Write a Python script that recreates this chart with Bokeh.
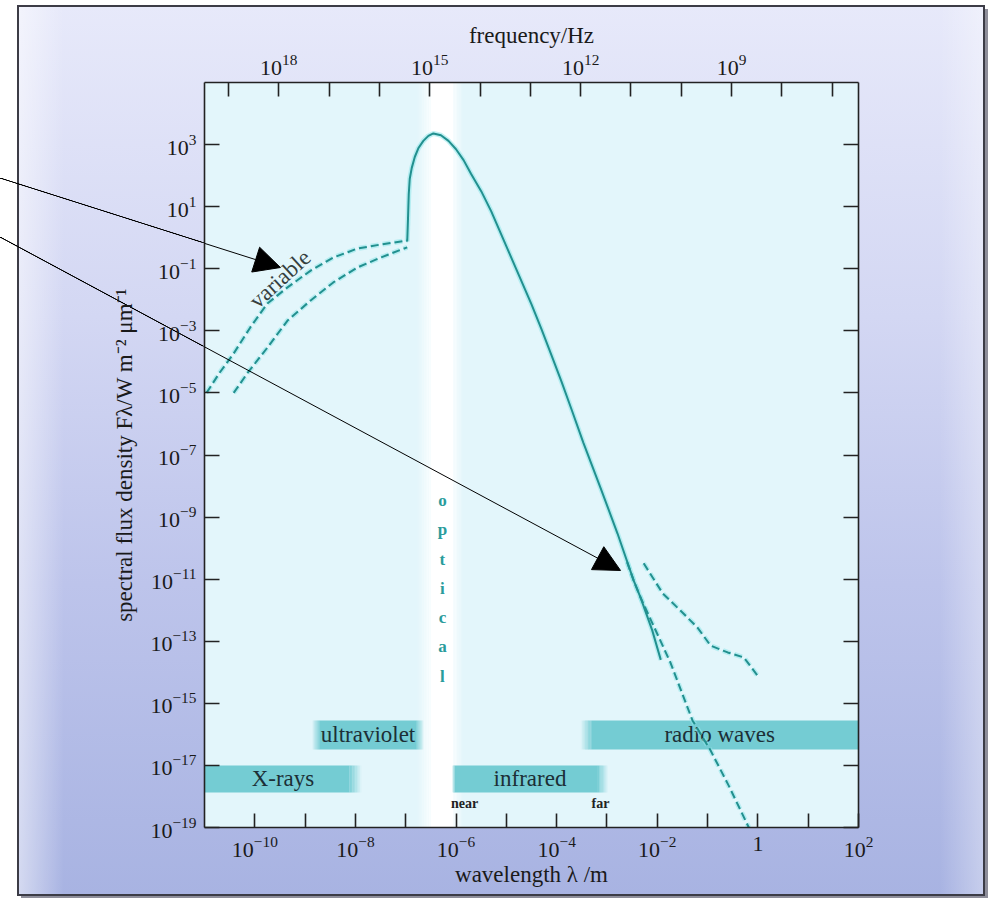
from bokeh.plotting import figure
from bokeh.models import (LogAxis, FixedTicker, CustomJSTickFormatter, LogTickFormatter,
                          Arrow, NormalHead, Range1d, LogScale)
from bokeh.core.properties import value
from bokeh.embed import file_html
from bokeh.resources import INLINE

# ---------------- data (log10 values) ----------------
X_RANGE = (1e-11, 1e2)          # wavelength / m
Y_RANGE = (1e-19, 1e5)          # F_lambda / W m^-2 um^-1

# solar spectrum, solid curve
MAIN_LOG_LAM = [-6.97, -6.955, -6.94, -6.92, -6.88, -6.82, -6.75, -6.65, -6.55, -6.45,
                -6.3, -6.15, -6.0, -5.85, -5.7, -5.5, -5.3, -5.1, -4.9, -4.7, -4.5,
                -4.3, -4.1, -3.9, -3.7, -3.47, -3.13, -2.79, -2.47, -2.33, -2.1, -1.93]
MAIN_LOG_F = [-0.12, 0.6, 1.4, 1.9, 2.25, 2.6, 2.88, 3.12, 3.28, 3.36,
              3.3, 3.12, 2.85, 2.5, 2.05, 1.5, 0.85, 0.1, -0.65, -1.4, -2.15,
              -2.95, -3.8, -4.65, -5.55, -6.6, -8.05, -9.53, -11.04, -11.6, -12.65, -13.6]

# X-ray / UV, active sun (upper dashed)
UV_ACTIVE_LOG_LAM = [-10.96, -10.7, -10.42, -10.09, -9.75, -9.35, -8.89, -8.44, -7.96, -7.5, -6.97]
UV_ACTIVE_LOG_F = [-5.0, -4.35, -3.73, -2.89, -2.12, -1.6, -1.06, -0.64, -0.35, -0.22, -0.09]

# X-ray / UV, quiet sun (lower dashed)
UV_QUIET_LOG_LAM = [-10.42, -10.15, -9.75, -9.35, -8.89, -8.44, -7.96, -7.5, -6.97]
UV_QUIET_LOG_F = [-5.0, -4.37, -3.54, -2.67, -2.02, -1.44, -0.96, -0.64, -0.31]

# radio, quiet sun (long dashed)
RADIO_QUIET_LOG_LAM = [-2.6, -2.47, -2.33, -1.74, -1.30, -0.94, -0.58, -0.18]
RADIO_QUIET_LOG_F = [-10.45, -11.04, -11.6, -13.68, -15.55, -16.52, -17.65, -19.0]

# radio, active sun (wiggly dashed)
RADIO_ACTIVE_LOG_LAM = [-2.27, -1.89, -1.54, -1.20, -0.94, -0.60, -0.28, -0.01]
RADIO_ACTIVE_LOG_F = [-10.49, -11.46, -12.01, -12.56, -13.14, -13.36, -13.52, -14.10]

# spectral bands
BAND_NAMES = ["X-rays", "ultraviolet", "infrared", "radio waves"]
BAND_LOG_LAM_LO = [-11.0, -8.72, -6.03, -3.30]
BAND_LOG_LAM_HI = [-8.12, -6.78, -3.18, 2.0]
BAND_LOG_F_LO = [-17.87, -16.49, -17.87, -16.49]
BAND_LOG_F_HI = [-17.0, -15.55, -17.0, -15.55]

OPTICAL_LOG_LAM = (-6.51, -6.05)
OPTICAL_LABEL = "o\np\nt\ni\nc\na\nl"

# axes ticks (exponents of ten)
Y_TICK_EXPS = [-19, -17, -15, -13, -11, -9, -7, -5, -3, -1, 1, 3]
X_LABEL_EXPS = [-10, -8, -6, -4, -2, 0, 2]
X_MINOR_EXPS = [-9, -7, -5, -3, -1, 1]
FREQ_LABEL_EXPS = [18, 15, 12, 9]
FREQ_MINOR_EXPS = [19, 17, 16, 14, 13, 11, 10, 8, 7]
C_LIGHT = 2.998e8

# annotations
ARROW_START_LOG = [(-15.06, 1.91), (-15.06, 0.02)]
ARROW_END_LOG = [(-9.49, -0.96), (-2.73, -10.72)]
VARIABLE_LOG_POS = (-9.50, -1.33)
NEAR_FAR = [("near", -5.83), ("far", -3.13)]
NEAR_FAR_LOG_F = -18.23

# ---------------- layout / style ----------------
W, H = 993, 898
FRAME_L, FRAME_R, FRAME_T, FRAME_B = 204, 858, 82, 827
SERIF = "Liberation Serif"
TEAL = "#22908f"
HALO = "#8fe6ea"
BAND_COLOR = "#74ccd3"
TEXT_DARK = "#1c2f36"
AX = "#222222"


def p10(v):
    return [10.0 ** a for a in v]


def to_px(lx, ly):
    px = FRAME_L + (lx - 11 * 0 - (-11)) * (FRAME_R - FRAME_L) / 13.0
    py = FRAME_B - (ly + 19) * (FRAME_B - FRAME_T) / 24.0
    return px, py


p = figure(width=W, height=H, x_axis_type="log", y_axis_type="log",
           x_range=X_RANGE, y_range=Y_RANGE, output_backend="svg",
           toolbar_location=None, min_border_left=FRAME_L, min_border_right=W - FRAME_R,
           min_border_top=FRAME_T, min_border_bottom=H - FRAME_B)

# outer panel (gradient, border, shadow) and the parts of the arrows lying outside the frame
arrow_css = []
for (xs, ys), (xe, ye) in zip(ARROW_START_LOG, ARROW_END_LOG):
    x0, y0 = to_px(xs, ys)
    x1, y1 = to_px(xe, ye)
    ya = y0 + (0 - x0) * (y1 - y0) / (x1 - x0)
    yb = y0 + (FRAME_L - x0) * (y1 - y0) / (x1 - x0)
    arrow_css.append(
        "linear-gradient(to top right, rgba(0,0,0,0) calc(50% - 0.8px), #000 calc(50% - 0.3px), "
        "#000 calc(50% + 0.3px), rgba(0,0,0,0) calc(50% + 0.8px)) "
        f"0px {ya:.1f}px / {FRAME_L}px {yb - ya:.1f}px no-repeat")

bg_layers = arrow_css + [
    "linear-gradient(#3c3c46,#3c3c46) 17px 5px / 968px 2px no-repeat",
    "linear-gradient(#3c3c46,#3c3c46) 17px 5px / 2px 891px no-repeat",
    "linear-gradient(#3c3c46,#3c3c46) 983px 5px / 2px 891px no-repeat",
    "linear-gradient(#3c3c46,#3c3c46) 17px 894px / 968px 2px no-repeat",
    "linear-gradient(#8e8e9a,#8e8e9a) 985px 9px / 3px 889px no-repeat",
    "linear-gradient(#8e8e9a,#8e8e9a) 21px 896px / 967px 2px no-repeat",
    "linear-gradient(to right, rgba(255,255,255,0.5), rgba(255,255,255,0)) 19px 7px / 45px 887px no-repeat",
    "linear-gradient(to left, rgba(255,255,255,0.35), rgba(255,255,255,0)) 940px 7px / 43px 887px no-repeat",
    "linear-gradient(to bottom, #e7e9fa 0%, #d3d7f3 35%, #bdc4eb 65%, #a8b3e2 100%) 17px 5px / 968px 891px no-repeat",
    "#ffffff",
]
p.styles = {"background": ", ".join(bg_layers)}
p.border_fill_alpha = 0
p.background_fill_color = "#e3f6fb"
p.outline_line_color = None
p.grid.visible = False

# ---------- optical band (white, soft edges) ----------
lo, hi = OPTICAL_LOG_LAM
N = 8
p.quad(left=[10 ** lo], right=[10 ** hi], bottom=[Y_RANGE[0]], top=[Y_RANGE[1]],
       fill_color="white", line_color=None)
for fw, side in ((0.27, -1), (0.2, 1)):
    for i in range(N):
        if side < 0:
            a = lo - fw + i * fw / N
            alpha = (i + 0.5) / N * 0.8
        else:
            a = hi + i * fw / N
            alpha = (1 - (i + 0.5) / N) * 0.8
        p.quad(left=[10 ** a], right=[10 ** (a + fw / N)], bottom=[Y_RANGE[0]], top=[Y_RANGE[1]],
               fill_color="white", fill_alpha=alpha, line_color=None)

# ---------- bands ----------
FADE_L = [0.0, 0.14, 0.05, 0.22]
FADE_R = [0.24, 0.14, 0.2, 0.0]
p.quad(left=p10(BAND_LOG_LAM_LO), right=p10(BAND_LOG_LAM_HI),
       bottom=p10(BAND_LOG_F_LO), top=p10(BAND_LOG_F_HI),
       fill_color=BAND_COLOR, line_color=None)
for k in range(len(BAND_NAMES)):
    for i in range(N):
        if FADE_L[k] > 0:
            w = FADE_L[k] / N
            a = BAND_LOG_LAM_LO[k] - FADE_L[k] + i * w
            p.quad(left=[10 ** a], right=[10 ** (a + w)], bottom=[10 ** BAND_LOG_F_LO[k]],
                   top=[10 ** BAND_LOG_F_HI[k]], fill_color=BAND_COLOR,
                   fill_alpha=(i + 0.5) / N, line_color=None)
        if FADE_R[k] > 0:
            w = FADE_R[k] / N
            a = BAND_LOG_LAM_HI[k] + i * w
            p.quad(left=[10 ** a], right=[10 ** (a + w)], bottom=[10 ** BAND_LOG_F_LO[k]],
                   top=[10 ** BAND_LOG_F_HI[k]], fill_color=BAND_COLOR,
                   fill_alpha=1 - (i + 0.5) / N, line_color=None)

label_x = [10 ** ((BAND_LOG_LAM_LO[k] - FADE_L[k] + BAND_LOG_LAM_HI[k] + FADE_R[k]) / 2)
           for k in range(len(BAND_NAMES))]
label_y = [10 ** ((BAND_LOG_F_LO[k] + BAND_LOG_F_HI[k]) / 2) for k in range(len(BAND_NAMES))]
p.text(x=label_x, y=label_y, text=BAND_NAMES, text_font=value(SERIF), text_font_size="23px",
       text_color=TEXT_DARK, text_align="center", text_baseline="middle")

p.text(x=[10 ** a for _, a in NEAR_FAR], y=[10 ** NEAR_FAR_LOG_F] * len(NEAR_FAR),
       text=[t for t, _ in NEAR_FAR], text_font=value(SERIF), text_font_size="14px",
       text_font_style="bold", text_color="#222222", text_align="center", text_baseline="middle")

# ---------- curves ----------
curves = [
    (MAIN_LOG_LAM, MAIN_LOG_F, "solid"),
    (UV_ACTIVE_LOG_LAM, UV_ACTIVE_LOG_F, "8 4"),
    (UV_QUIET_LOG_LAM, UV_QUIET_LOG_F, "8 4"),
    (RADIO_QUIET_LOG_LAM, RADIO_QUIET_LOG_F, "8 4"),
    (RADIO_ACTIVE_LOG_LAM, RADIO_ACTIVE_LOG_F, "8 4"),
]
for lx, ly, dash in curves:
    p.line(p10(lx), p10(ly), line_color=HALO, line_width=5, line_alpha=0.55, line_dash=dash)
for lx, ly, dash in curves:
    p.line(p10(lx), p10(ly), line_color=TEAL, line_width=2, line_dash=dash)

# ---------- texts ----------
p.text(x=[10 ** -6.27], y=[10 ** -11.3], text=[OPTICAL_LABEL], text_font=value(SERIF),
       text_font_size="17px", text_font_style="bold", text_color="#2a9c9c",
       text_align="center", text_baseline="middle", text_line_height=1.54)

p.text(x=[10 ** VARIABLE_LOG_POS[0]], y=[10 ** VARIABLE_LOG_POS[1]], text=["variable"],
       angle=0.74, text_font=value(SERIF), text_font_size="23px", text_color="#353f40",
       text_align="center", text_baseline="middle")

# ---------- arrows (inside the frame) ----------
for (xs, ys), (xe, ye) in zip(ARROW_START_LOG, ARROW_END_LOG):
    p.add_layout(Arrow(end=NormalHead(size=26, fill_color="black", line_color="black", line_width=1),
                       x_start=10 ** xs, y_start=10 ** ys, x_end=10 ** xe, y_end=10 ** ye,
                       line_color="black", line_width=1))


# ---------- axes ----------
def style_axis(ax, tick_len):
    ax.axis_line_color = AX
    ax.axis_line_width = 1.6
    ax.major_tick_line_color = AX
    ax.major_tick_line_width = 1.6
    ax.major_tick_in = tick_len
    ax.major_tick_out = 0
    ax.minor_tick_line_color = AX
    ax.minor_tick_line_width = 1.6
    ax.minor_tick_in = tick_len
    ax.minor_tick_out = 0
    ax.major_label_text_font = SERIF
    ax.major_label_text_font_size = "22px"
    ax.major_label_text_color = "#1a1a1a"
    ax.axis_label_text_font = SERIF
    ax.axis_label_text_font_size = "23px"
    ax.axis_label_text_font_style = "normal"
    ax.axis_label_text_color = "#1a1a1a"


xa = p.xaxis[0]
style_axis(xa, 14)
xa.ticker = FixedTicker(ticks=p10(X_LABEL_EXPS), minor_ticks=p10(X_MINOR_EXPS))
xa.formatter = LogTickFormatter(min_exponent=1)
xa.axis_label = "wavelength \u03bb /m"
xa.major_label_standoff = 9
xa.axis_label_standoff = 2

ya = p.yaxis[0]
style_axis(ya, 15)
ya.ticker = FixedTicker(ticks=p10(Y_TICK_EXPS), minor_ticks=[])
ya.formatter = LogTickFormatter()
ya.axis_label = "spectral flux density F\u03bb/W m\u207b\u00b2 \u03bcm\u207b\u00b9"
ya.major_label_standoff = 8
ya.axis_label_standoff = 10

p.extra_x_ranges = {"freq": Range1d(start=C_LIGHT / X_RANGE[0], end=C_LIGHT / X_RANGE[1])}
p.extra_x_scales = {"freq": LogScale()}
top = LogAxis(x_range_name="freq",
              ticker=FixedTicker(ticks=p10(FREQ_LABEL_EXPS), minor_ticks=p10(FREQ_MINOR_EXPS)),
              formatter=LogTickFormatter(), axis_label="frequency/Hz")
style_axis(top, 14)
top.major_label_standoff = 8
top.axis_label_standoff = 4
p.add_layout(top, "above")

right = LogAxis(ticker=FixedTicker(ticks=p10(Y_TICK_EXPS), minor_ticks=[]),
                formatter=CustomJSTickFormatter(code="return '';"))
style_axis(right, 15)
p.add_layout(right, "right")

open("out.html", "w").write(file_html(p, INLINE))
